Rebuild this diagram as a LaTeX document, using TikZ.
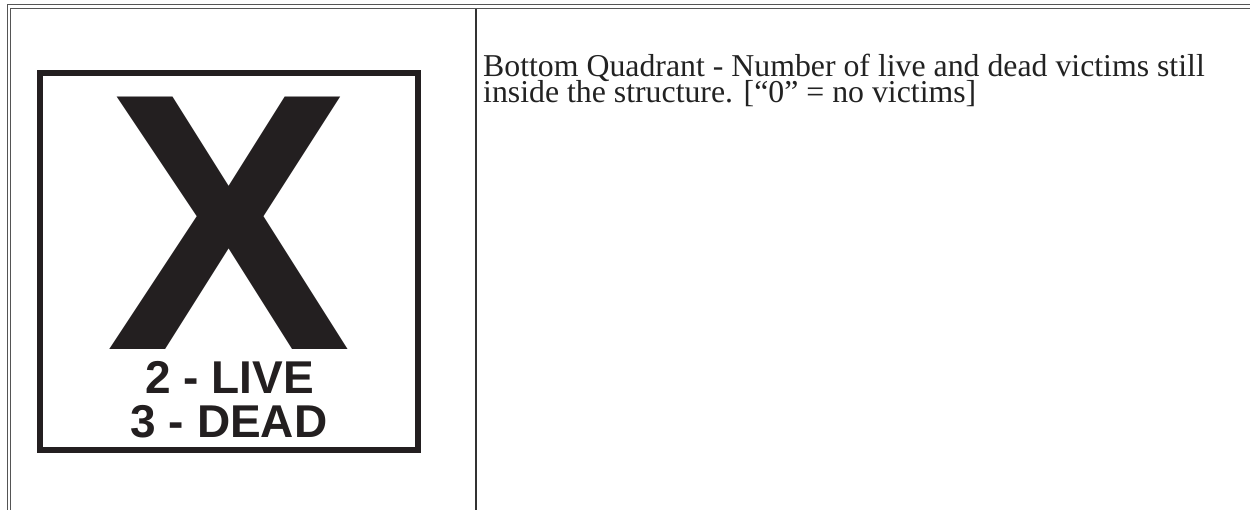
\documentclass[tikz,border=0pt]{standalone}
\usepackage{fontspec}
\setmainfont{Liberation Serif}
\newfontfamily\signfont{Liberation Sans}[BoldFont={Liberation Sans Bold}]
\definecolor{signink}{HTML}{231F20}
\definecolor{rulegray}{HTML}{555555}
\definecolor{textink}{HTML}{222222}
\begin{document}
\begin{tikzpicture}[x=1pt,y=-1pt,
  rule/.style={draw=rulegray,line width=1pt},
  seprule/.style={draw=black!80,line width=1.5pt},
  signbox/.style={draw=signink,line width=6pt},
  bigx/.style={inner sep=0pt,anchor=base,text=signink,font=\signfont\bfseries\fontsize{367}{367}\selectfont},
  signline/.style={inner sep=0pt,anchor=base,text=signink,font=\signfont\bfseries\fontsize{46}{46}\selectfont},
  desc/.style={inner sep=0pt,anchor=base west,text=textink,font=\fontsize{31.8}{31.8}\selectfont}]
\useasboundingbox (0,0) rectangle (1250,510);
% table rules
\draw[rule] (1250,5) -- (7,5) -- (7,510);
\draw[rule] (1250,8.5) -- (10.5,8.5) -- (10.5,510);
\coordinate (septop) at (476,9);
\coordinate (sepbot) at (476,510);
\draw[seprule] (septop) -- (sepbot);
% sign
\draw[signbox] (40,73) rectangle (418,450);
\node[bigx] (x) at (229,350) {X};
\node[signline] (live) at (229.5,394) {2 - LIVE};
\node[signline] (dead) at (229,437) {3 - DEAD};
% description
\node[desc] (l1) at (483,77) {Bottom Quadrant - Number of live and dead victims still};
\node[desc] (l2) at (483,103) {inside the structure. [“0\symbol{"22} = no victims]};
\end{tikzpicture}
\end{document}
